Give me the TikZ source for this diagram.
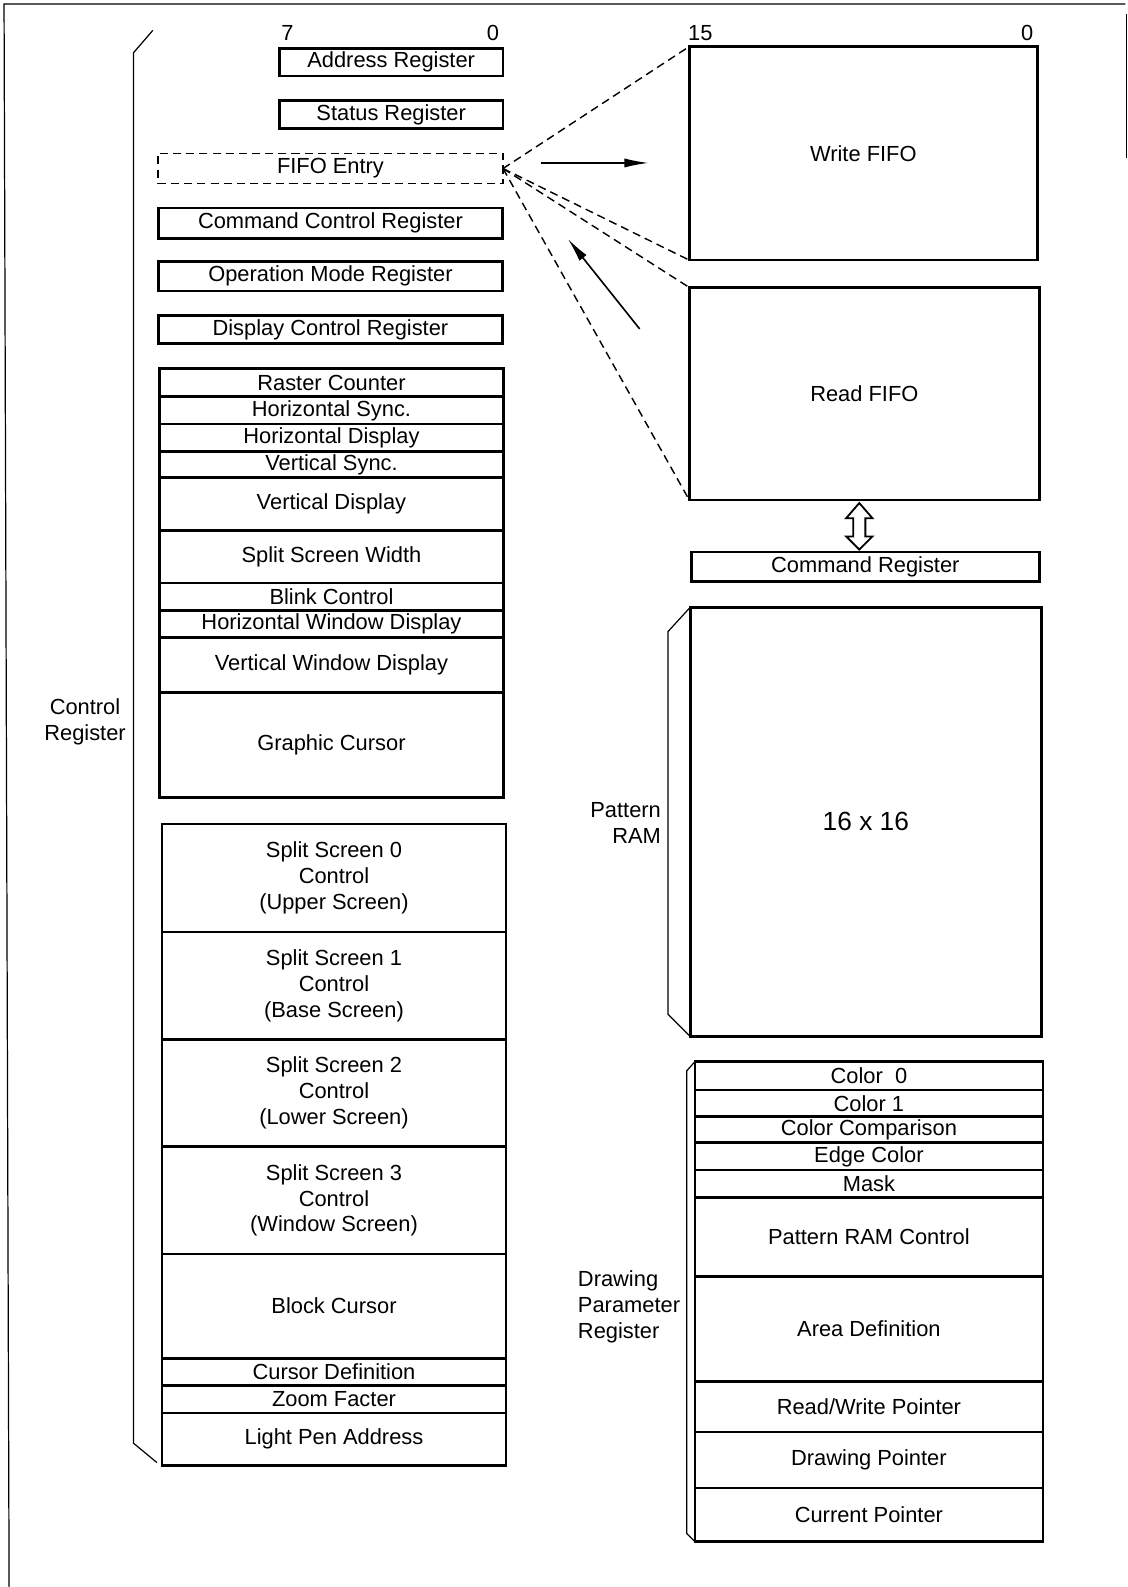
\documentclass[tikz,border=0pt]{standalone}
\usepackage{fontspec}
\setmainfont{Liberation Sans}
\usepackage{tikz}
\usetikzlibrary{positioning,arrows.meta,calc}
\newcommand\regsize{\fontsize{10.8}{12.8}\selectfont}
\newcommand\ramsize{\fontsize{13}{15}\selectfont}

\begin{document}
\begin{tikzpicture}[
  x=0.5pt, y=-0.5pt,
  every node/.style={font=\regsize},
  reg/.style={draw, line width=1.3pt, inner sep=0pt, outer sep=0pt, align=center},
  lcol/.style={reg, minimum width=170pt},
  rcol/.style={reg, minimum width=172pt},
  entry/.style={reg, line width=0.7pt, dash pattern=on 4pt off 2.5pt},
  thinline/.style={line width=0.6pt},
  fifo/.style={line width=0.7pt, dash pattern=on 4pt off 2.5pt},
  flow/.style={line width=0.8pt, -{Latex[length=12pt,width=4.5pt]}}
]
  \useasboundingbox (0,0) rectangle (1114,1568);
  \draw[thinline] (9,1568) -- (4,4) -- (1112,4);
  \draw[thinline] (1113,14) -- (1113,156);

  \node[reg, minimum width=110.5pt, minimum height=13.5pt] (ar) at (386.5,61.5) {Address Register};
  \node[reg, minimum width=110.5pt, minimum height=14pt] (sr) at (386.5,113) {Status Register};
  \node[entry, minimum width=170.5pt, minimum height=15pt] (fe) at (326.5,166.5) {FIFO Entry};
  \node[lcol, minimum height=15pt] (ccr) at (326.5,220.5) {Command Control Register};
  \node[lcol, minimum height=14.5pt] (omr) at (326.5,273) {Operation Mode Register};
  \node[lcol, minimum height=14pt] (dcr) at (326.5,325.5) {Display Control Register};
  \node (b7) at (284,33) {7};
  \node (b0) at (487,33) {0};

  \node[lcol, minimum height=14pt] (rc) at (327.5,378) {Raster Counter};
  \node[lcol, minimum height=13.5pt, below=0pt of rc] (hs) {Horizontal Sync.};
  \node[lcol, minimum height=13.5pt, below=0pt of hs] (hd) {Horizontal Display};
  \node[lcol, minimum height=13pt, below=0pt of hd] (vs) {Vertical Sync.};
  \node[lcol, minimum height=26pt, below=0pt of vs] (vd) {Vertical Display};
  \node[lcol, minimum height=26pt, below=0pt of vd] (ssw) {Split Screen Width};
  \node[lcol, minimum height=13.5pt, below=0pt of ssw] (bc) {Blink Control};
  \node[lcol, minimum height=13.5pt, below=0pt of bc] (hwd) {Horizontal Window Display};
  \node[lcol, minimum height=27pt, below=0pt of hwd] (vwd) {Vertical Window Display};
  \node[lcol, minimum height=52pt, below=0pt of vwd] (gc) {Graphic Cursor};

  \node[lcol, minimum height=53.5pt] (ss0) at (330,867.5) {Split Screen 0\\Control\\(Upper Screen)};
  \node[lcol, minimum height=53pt, below=0pt of ss0] (ss1) {Split Screen 1\\Control\\(Base Screen)};
  \node[lcol, minimum height=53pt, below=0pt of ss1] (ss2) {Split Screen 2\\Control\\(Lower Screen)};
  \node[lcol, minimum height=53pt, below=0pt of ss2] (ss3) {Split Screen 3\\Control\\(Window Screen)};
  \node[lcol, minimum height=51.5pt, below=0pt of ss3] (bcur) {Block Cursor};
  \node[lcol, minimum height=13.5pt, below=0pt of bcur] (cd) {Cursor Definition};
  \node[lcol, minimum height=13.5pt, below=0pt of cd] (zf) {Zoom Facter};
  \node[lcol, minimum height=26pt, below=0pt of zf] (lpa) {Light Pen Address};

  \node[align=center] (cl) at (84,713) {Control\\Register};
  \draw[thinline] (151,30) -- (132,52) -- (132,1426) -- (155,1445);

  \node[rcol, minimum height=105.5pt] (wf) at (853,151.5) {Write FIFO};
  \node[rcol, minimum width=173pt, minimum height=105pt] (rf) at (854,389) {Read FIFO};
  \node[rcol, minimum height=14.5pt] (cr) at (855,560) {Command Register};
  \node (w15) at (692,33) {15};
  \node (w0) at (1015,33) {0};

  \draw[fifo] (fe.east) -- (wf.north west);
  \draw[fifo] (fe.east) -- (wf.south west);
  \draw[fifo] (fe.east) -- (rf.north west);
  \draw[fifo] (fe.east) -- (rf.south west);

  \coordinate (wa) at (535,161);
  \coordinate (wb) at (641,161);
  \draw[flow] (wa) -- (wb);
  \coordinate (ra) at (632,325);
  \coordinate (rb) at (561,236);
  \draw[flow] (ra) -- (rb);

  \draw[line width=0.9pt] ($(rf.south)+(-5,3)$) -- ++(13,15) -- ++(-7,0) -- ++(0,18) -- ++(7,0)
    -- ++(-13,13) -- ++(-13,-13) -- ++(7,0) -- ++(0,-18) -- ++(-7,0) -- cycle;

  \node[rcol, minimum width=173.5pt, minimum height=212pt, font=\ramsize] (pram) at (855.5,812) {16 x 16};
  \draw[thinline] (pram.north west) -- ++(-22,24) -- ($(pram.south west)+(-22,-22)$) -- (pram.south west);
  \node[align=right, anchor=east] (pl) at (660,813) {Pattern\\RAM};

  \node[rcol, minimum height=14pt] (c0) at (858.5,1063) {Color\ \ 0};
  \node[rcol, minimum height=13pt, below=0pt of c0] (c1) {Color 1};
  \node[rcol, minimum height=13pt, below=0pt of c1] (cc) {Color Comparison};
  \node[rcol, minimum height=13.5pt, below=0pt of cc] (ec) {Edge Color};
  \node[rcol, minimum height=13.5pt, below=0pt of ec] (mk) {Mask};
  \node[rcol, minimum height=39pt, below=0pt of mk] (prc) {Pattern RAM Control};
  \node[rcol, minimum height=52pt, below=0pt of prc] (ad) {Area Definition};
  \node[rcol, minimum height=25pt, below=0pt of ad] (rwp) {Read/Write Pointer};
  \node[rcol, minimum height=27.5pt, below=0pt of rwp] (dp) {Drawing Pointer};
  \node[rcol, minimum height=26.5pt, below=0pt of dp] (cp) {Current Pointer};
  \draw[thinline] (c0.north west) -- ++(-8,9) -- ($(cp.south west)+(-8,-8)$) -- (cp.south west);
  \node[align=left, anchor=west] (dl) at (564,1291) {Drawing\\Parameter\\Register};
\end{tikzpicture}
\end{document}
